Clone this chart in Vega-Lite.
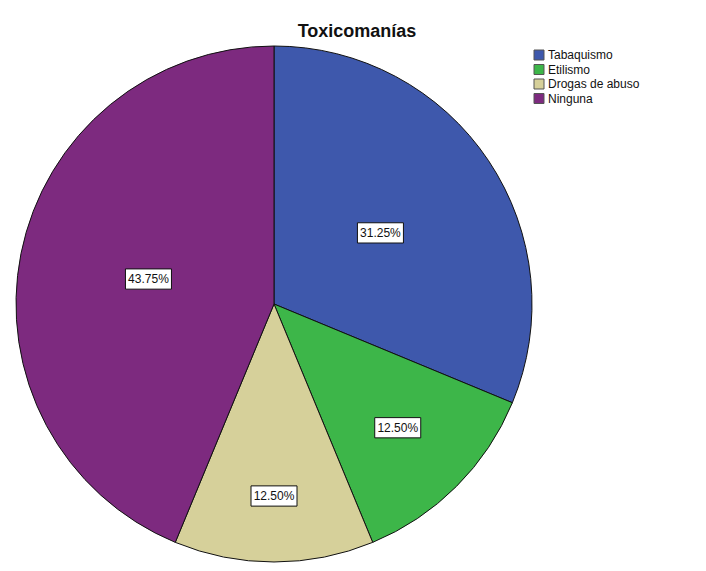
{
  "$schema": "https://vega.github.io/schema/vega-lite/v6.json",
  "width": 516,
  "height": 516,
  "padding": {"left": 14, "top": 23, "right": 5, "bottom": 5},
  "background": "white",
  "title": {"text": "Toxicomanías", "font": "Liberation Sans", "fontSize": 18, "fontWeight": "bold", "color": "#111111", "anchor": "middle", "dx": 83, "offset": 3},
  "data": {"values": [
    {"cat": "Tabaquismo", "pct": 31.25, "label": "31.25%", "idx": 1},
    {"cat": "Etilismo", "pct": 12.5, "label": "12.50%", "idx": 2},
    {"cat": "Drogas de abuso", "pct": 12.5, "label": "12.50%", "idx": 3},
    {"cat": "Ninguna", "pct": 43.75, "label": "43.75%", "idx": 4}
  ]},
  "transform": [
    {"stack": "pct", "groupby": [], "sort": [{"field": "idx"}], "as": ["t0", "t1"]},
    {"calculate": "(datum.t0 + datum.t1) / 200 * 2 * PI", "as": "ang"},
    {"calculate": "datum.pct > 20 ? 128 : (datum.idx == 2 ? 175 : 192)", "as": "lr"},
    {"calculate": "datum.lr * sin(datum.ang)", "as": "px"},
    {"calculate": "datum.lr * cos(datum.ang)", "as": "py"}
  ],
  "layer": [
    {
      "mark": {"type": "arc", "stroke": "#111111", "strokeWidth": 1},
      "encoding": {
        "theta": {"field": "t0", "type": "quantitative", "scale": {"domain": [0, 100]}},
        "theta2": {"field": "t1"},
        "color": {"field": "cat", "type": "nominal", "sort": ["Tabaquismo", "Etilismo", "Drogas de abuso", "Ninguna"],
          "scale": {"domain": ["Tabaquismo", "Etilismo", "Drogas de abuso", "Ninguna"], "range": ["#3E58AC", "#3DB649", "#D6D09A", "#7D2A7F"]},
          "legend": {"title": null, "orient": "none", "legendX": 517, "legendY": 3, "symbolType": "square", "symbolSize": 100, "symbolStrokeColor": "#555555", "symbolStrokeWidth": 1, "labelFont": "Liberation Sans", "labelFontSize": 12, "labelColor": "#111111", "rowPadding": 0.5, "symbolOffset": 0, "labelOffset": 3}
        }
      }
    },
    {
      "mark": {"type": "point", "shape": "M-1,-0.44H1V0.44H-1Z", "size": 2116, "filled": true, "fill": "white", "stroke": "#111111", "strokeWidth": 1, "opacity": 1},
      "encoding": {
        "x": {"field": "px", "type": "quantitative", "scale": {"domain": [-258, 258]}, "axis": null},
        "y": {"field": "py", "type": "quantitative", "scale": {"domain": [-258, 258]}, "axis": null}
      }
    },
    {
      "mark": {"type": "text", "font": "Liberation Sans", "fontSize": 12, "color": "#111111"},
      "encoding": {
        "x": {"field": "px", "type": "quantitative", "scale": {"domain": [-258, 258]}, "axis": null},
        "y": {"field": "py", "type": "quantitative", "scale": {"domain": [-258, 258]}, "axis": null},
        "text": {"field": "label"}
      }
    }
  ],
  "config": {"view": {"stroke": null}}
}
